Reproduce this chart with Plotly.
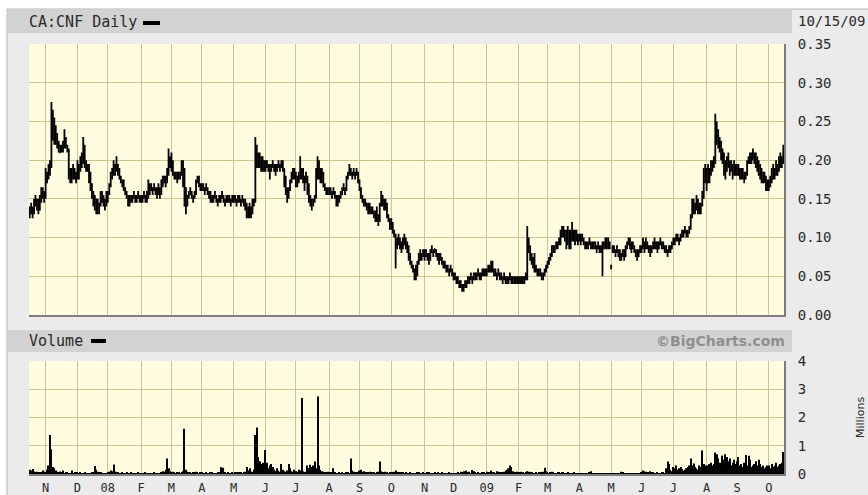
import pandas as pd
import plotly.graph_objects as go

W, H = 868, 495

# Daily prices in cents (trading days 2007-10-17 .. 2009-10-15), one line per month
close_c = [
    13, 13.5, 13, 14, 14.5, 14, 13.5, 14.5, 15, 15.5, 15,  # Oct 07
    18, 17.5, 18.5, 19, 23, 25, 24, 22.5, 23, 21.5, 21, 21.5, 22, 23, 22, 21.5, 18.5, 17.5, 18, 18.5, 18, 17.5,  # Nov
    19, 18.5, 19.5, 20, 21.5, 20, 19, 19, 18.5, 17, 15.5, 15, 14.5, 13.5, 14, 13.5, 14.5, 15, 14.5, 14, 15,  # Dec
    15.5, 16.5, 17.5, 18.5, 19, 18.5, 19.5, 19, 18, 17.5, 17, 16.5, 16, 15.5, 15, 14.5, 15, 15, 15.5, 15, 15, 15.5, 15,  # Jan 08
    15, 15, 15.5, 15, 15, 16.5, 16, 16.5, 16, 16.5, 16, 15.5, 16, 15.5, 16.5, 17, 17.5, 17, 18, 20, 19.5,  # Feb
    19.5, 18.5, 18, 18, 17.5, 18, 18, 18.5, 19, 16.5, 14, 15, 15.5, 16, 15.5, 15, 15.5, 17, 17.5, 17, 16.5,  # Mar
    16.5, 16.5, 16, 16.5, 16, 15.5, 15, 15, 15, 15.5, 15, 14.5, 15, 15, 15.5, 15, 14.5, 15, 15, 15, 14.5, 15,  # Apr
    15, 15, 14.5, 15, 15, 14.5, 15, 14.5, 14, 13.5, 13, 13.5, 13, 14, 14.5, 21, 20, 19.5, 20, 19, 19.5, 19,  # May
    19, 19.5, 19, 18.5, 19, 19.5, 19, 18.5, 19, 19.5, 19, 19.5, 19, 18, 16.5, 15.5, 16, 17, 18, 18.5, 18,  # Jun
    17.5, 17, 18, 19, 18.5, 18, 17, 18, 17, 15.5, 14.5, 14, 14.5, 15, 18, 19, 18.5, 17.5, 18, 17, 16.5, 16, 16,  # Jul
    16, 16, 15.5, 16, 15.5, 15, 14.5, 15, 15.5, 16, 16.5, 16, 17, 18, 18.5, 18.5, 18, 18.5, 18, 18.5, 18,  # Aug
    16.5, 15.5, 15, 14.5, 14.5, 14, 13.5, 14, 13.5, 13.5, 13, 12.5, 13, 12, 13.5, 15, 14.5, 14, 14.5, 13, 12.5, 12,  # Sep
    12, 11, 10.5, 8, 9.5, 10, 9, 8.5, 9.5, 10, 9, 8.5, 8, 7, 6.5, 6, 5.5, 5, 6.5, 7.5, 8, 7.5, 8,  # Oct
    7.5, 8, 7.5, 7, 8, 8.5, 8, 8.5, 8, 7.5, 7, 7.5, 7, 6.5, 6.5, 6, 6, 5.5, 6, 5.5,  # Nov
    5, 5, 4.5, 4.5, 4, 4, 3.5, 3.5, 4, 4, 4.5, 4.5, 5, 4.5, 5, 5, 5, 5.5, 5, 5, 5.5, 5.5, 5.5,  # Dec
    5.5, 6, 6, 6.5, 6, 5.5, 5.5, 5, 5.5, 5, 5, 4.5, 5, 4.5, 4.5, 4.5, 5, 4.5, 4.5, 4.5, 4.5, 4.5,  # Jan 09
    4.5, 4.5, 4.5, 4.5, 4.5, 5, 9.5, 8.5, 7.5, 7, 6.5, 6, 6, 5.5, 5.5, 5.5, 5, 5, 5.5, 6,  # Feb
    6.5, 7, 7.5, 8.5, 8.5, 8.5, 9, 9, 9.5, 10, 10.5, 11, 10.5, 10.5, 11, 10, 10.5, 11, 10.5, 10, 10.5, 10,  # Mar
    10, 9.5, 10, 9.5, 9, 9, 9, 9.5, 9, 9, 9, 9, 8.5, 9, 8.5, 8.5, 9, 9, 9.5, 9, 9.5, 9,  # Apr
    6, 8.5, 8.5, 8, 8.5, 8, 7.5, 7.5, 8, 7.5, 8.5, 9, 9.5, 9, 8.5, 9, 8.5, 8, 7.5, 8, 8.5,  # May
    8.5, 9, 8.5, 9.5, 9, 8.5, 8, 8.5, 9, 9.5, 9, 8.5, 9, 9.5, 9, 9, 8.5, 8.5, 8, 8.5, 8.5, 9,  # Jun
    9.5, 9.5, 10, 10, 9.5, 10, 10.5, 10.5, 11, 10.5, 10.5, 11, 12.5, 14.5, 14, 13.5, 14.5, 14, 13.5, 14, 15, 17, 18.5,  # Jul
    17, 18.5, 18, 19.5, 19, 20, 24, 23, 22.5, 22, 21, 20.5, 19.5, 18.5, 19.5, 20, 19, 19.5, 18.5, 19, 19,  # Aug
    19, 18.5, 18, 18.5, 18, 17.5, 18, 19.5, 20, 20.5, 20, 21, 20.5, 20, 19.5, 19, 18.5, 18, 17.5, 18, 17, 16.5,  # Sep
    16.5, 17, 18, 18.5, 18, 19, 18.5, 19.5, 20, 19.5, 21,  # Oct 09
]

high_c = [
    14, 14.5, 14, 15, 15.5, 15, 15, 15.5, 16.5, 16.5, 16,
    19, 18.5, 19.5, 20, 27.5, 26.5, 25.5, 24.5, 23.5, 22.5, 22, 22, 22.5, 24, 23, 22, 21.5, 19, 19, 19.5, 19, 18.5,
    20, 19.5, 20.5, 21, 23, 22, 20, 19.5, 19.5, 18.5, 17, 16, 15.5, 15, 15, 14.5, 16, 16, 15.5, 15, 16,
    16, 17, 18.5, 19, 20, 19.5, 20.5, 19.5, 19, 18, 17.5, 17.5, 16.5, 16, 15.5, 15.5, 15.5, 15.5, 16, 15.5, 15.5, 16, 15.5,
    15.5, 15.5, 16, 15.5, 16, 17.5, 17, 17, 16.5, 17, 16.5, 16.5, 17, 16.5, 17.5, 18, 18, 18, 19, 21.5, 20.5,
    21, 20, 18.5, 18.5, 18.5, 18.5, 18.5, 20, 20, 19, 16.5, 15.5, 16, 16.5, 16, 15.5, 16, 17.5, 18, 18, 17,
    17, 17, 16.5, 17, 16.5, 16, 16, 15.5, 15.5, 16, 15.5, 15, 15.5, 15.5, 16, 15.5, 15, 15.5, 15.5, 15.5, 15, 15.5,
    15.5, 15.5, 15, 15.5, 15.5, 15, 15.5, 15, 15, 14.5, 14, 14.5, 14, 15, 15, 23, 22, 21, 21, 20.5, 20.5, 20,
    20, 20, 19.5, 19.5, 19.5, 20, 19.5, 19.5, 19.5, 20, 19.5, 20, 20, 19, 18, 16.5, 16.5, 17.5, 18.5, 19, 19,
    18.5, 18, 18.5, 20.5, 19, 19, 18, 18.5, 18, 17, 15.5, 15, 15, 15.5, 19, 20.5, 20, 19, 19, 18.5, 17, 16.5, 16.5,
    16.5, 16.5, 16, 16.5, 16, 15.5, 15.5, 15.5, 16, 16.5, 17, 16.5, 18, 18.5, 19.5, 19, 18.5, 19, 18.5, 19, 18.5,
    17.5, 16.5, 15.5, 15, 15, 14.5, 14.5, 14.5, 14, 14, 13.5, 13.5, 14, 13, 14.5, 16, 15.5, 15, 15, 14.5, 13, 12.5,
    12.5, 12, 11, 10.5, 10, 10.5, 10, 9.5, 10, 10.5, 10, 9.5, 9, 8, 7, 6.5, 6, 6.5, 7, 8, 8.5, 8, 8.5,
    8.5, 8.5, 8, 8, 8.5, 9, 8.5, 8.5, 8.5, 8, 8, 8, 7.5, 7, 7, 6.5, 6.5, 6, 6.5, 6,
    5.5, 5.5, 5, 5, 4.5, 4.5, 4, 4, 4.5, 4.5, 5, 5, 5.5, 5, 5.5, 5.5, 5.5, 6, 5.5, 5.5, 6, 6, 6,
    6, 6.5, 6.5, 7, 7, 6, 6, 5.5, 6, 5.5, 5.5, 5, 5.5, 5, 5, 5, 5.5, 5, 5, 5, 5, 5,
    5, 5, 5, 5, 5, 5.5, 11.5, 10, 9, 8, 7.5, 8, 6.5, 6, 6, 6, 5.5, 5.5, 6, 6.5,
    7, 7.5, 8, 9, 9, 9, 9.5, 9.5, 10, 11, 11.5, 11.5, 11, 11, 11.5, 11, 11, 12, 11, 11, 11, 10.5,
    10.5, 10.5, 10.5, 10, 9.5, 9.5, 9.5, 10, 9.5, 9.5, 9.5, 9.5, 9, 9.5, 9, 9, 9.5, 9.5, 10, 10, 10, 9.5,
    6.5, 9, 9, 8.5, 9, 8.5, 8.5, 8, 8.5, 8.5, 9, 9.5, 10, 10, 9.5, 9.5, 9, 8.5, 8.5, 8.5, 9,
    9, 10, 9.5, 10, 9.5, 9, 9, 9, 9.5, 10, 9.5, 9.5, 9.5, 10, 9.5, 9.5, 9, 9, 8.5, 9, 9, 9.5,
    10, 10, 10.5, 10.5, 10, 10.5, 11, 11, 11.5, 11, 11, 11.5, 13, 15, 15, 14.5, 15.5, 15, 14.5, 14.5, 16, 19, 19.5,
    19, 19.5, 19, 20, 20, 20.5, 26, 25, 24, 23, 22.5, 21.5, 21, 20, 20.5, 21, 20, 20, 19.5, 20, 19.5,
    19.5, 19.5, 19, 19, 19, 18.5, 18.5, 20, 20.5, 21, 21, 21.5, 21, 21, 20.5, 20, 19.5, 19, 18.5, 18.5, 18, 17.5,
    17.5, 18, 19, 19.5, 19, 20, 19.5, 20.5, 21, 20.5, 22,
]

low_c = [
    12.5, 13, 12.5, 13, 14, 13.5, 13, 13.5, 14.5, 15, 14.5,
    15, 17, 17.5, 18, 19, 22.5, 22, 22, 21.5, 21, 21, 21, 21, 21.5, 21.5, 21, 17.5, 17, 17, 17.5, 17.5, 17,
    17.5, 17.5, 18.5, 19, 19.5, 19, 18.5, 18.5, 17, 16, 15, 14, 13.5, 13, 13, 13, 14, 14.5, 14, 13.5, 14,
    14.5, 15.5, 16.5, 17.5, 18, 18, 18.5, 18, 17.5, 17, 16.5, 16, 15.5, 15, 14, 14, 14.5, 14.5, 15, 14.5, 14.5, 15, 14.5,
    14.5, 14.5, 15, 14.5, 14.5, 15, 15.5, 16, 15.5, 16, 15.5, 15, 15.5, 15, 15.5, 16.5, 17, 16.5, 17, 18, 19,
    18.5, 18, 17.5, 17.5, 17, 17.5, 17.5, 18, 16.5, 14, 13, 14, 15, 15.5, 15, 14.5, 15, 15.5, 17, 16.5, 16,
    16, 16, 15.5, 16, 15.5, 15, 14.5, 14.5, 14.5, 15, 14.5, 14, 14.5, 14.5, 15, 14.5, 14, 14.5, 14.5, 14.5, 14, 14.5,
    14.5, 14.5, 14, 14.5, 14.5, 14, 14.5, 14, 13.5, 12.5, 12.5, 12.5, 12.5, 13, 14, 14.5, 19, 19, 19, 18.5, 18.5, 18.5,
    18.5, 19, 18.5, 17.5, 18.5, 19, 18.5, 18, 18.5, 19, 18.5, 19, 18.5, 16.5, 15.5, 14.5, 15, 16, 17, 17.5, 17.5,
    16.5, 16.5, 17, 17.5, 17.5, 17, 16, 17, 15.5, 14.5, 14, 13.5, 14, 14.5, 15, 17.5, 17.5, 17, 17, 16.5, 16, 15.5, 15.5,
    15.5, 15.5, 15, 15.5, 15, 14, 14, 14.5, 15, 15.5, 16, 15.5, 16, 17.5, 18, 18, 17.5, 18, 17.5, 18, 17,
    16, 15, 14.5, 14, 14, 13.5, 13, 13, 13, 13, 12.5, 12, 12, 11.5, 12, 14, 14, 13.5, 13.5, 12.5, 12, 11,
    11, 10.5, 10, 6, 8.5, 9, 8.5, 8, 8.5, 9, 8.5, 8, 7, 6.5, 6, 5.5, 4.5, 4.5, 5, 6.5, 7, 7, 7.5,
    7, 7.5, 7, 6.5, 7, 8, 7.5, 8, 7.5, 7, 6.5, 7, 6.5, 6, 6, 5.5, 5.5, 5, 5.5, 5,
    4.5, 4.5, 4, 4, 3.5, 3.5, 3, 3, 3.5, 3.5, 4, 4, 4.5, 4, 4.5, 4.5, 4.5, 5, 4.5, 4.5, 5, 5, 5,
    5, 5.5, 5.5, 5.5, 5.5, 5, 5, 4.5, 5, 4.5, 4.5, 4, 4.5, 4, 4, 4, 4.5, 4, 4, 4, 4, 4,
    4, 4, 4, 4, 4, 4.5, 4.5, 8, 7, 6.5, 6, 5.5, 5.5, 5, 5, 5, 4.5, 4.5, 5, 5.5,
    6, 6.5, 7, 7.5, 8, 8, 8.5, 8.5, 9, 9, 10, 10, 9.5, 8.5, 9, 8.5, 8.5, 9.5, 9.5, 9, 9.5, 9,
    9.5, 9, 9.5, 9, 8.5, 8.5, 8.5, 9, 8.5, 8.5, 8.5, 8.5, 8, 8.5, 8, 8, 5, 8.5, 8.5, 8.5, 8.5, 8.5,
    6, 8, 8, 7.5, 8, 7.5, 7, 7, 7.5, 7, 7.5, 8.5, 9, 8.5, 8, 8.5, 8, 7.5, 7, 7.5, 8,
    8, 8.5, 8, 8.5, 8.5, 8, 7.5, 8, 8.5, 8.5, 8.5, 8, 8.5, 9, 8.5, 8.5, 8, 8, 7.5, 8, 8, 8.5,
    9, 9, 9.5, 9.5, 9, 9.5, 10, 10, 10.5, 10, 10, 10.5, 11, 12.5, 13, 13, 13.5, 13, 13, 13, 14, 15, 17,
    16, 17, 17, 18, 18.5, 19, 19.5, 22, 21.5, 21, 20, 19.5, 18, 17.5, 18.5, 19, 18, 18.5, 17.5, 18, 18,
    18, 18, 17.5, 17.5, 17.5, 17, 17.5, 18, 19.5, 19.5, 19.5, 20, 19.5, 19, 18.5, 18, 17.5, 17, 17, 17, 16, 16,
    16, 16.5, 17, 17.5, 17.5, 18, 18, 18.5, 19, 19, 19.5,
]

# Daily volume in thousands of shares
volume_k = [
    150, 120, 180, 90, 60, 80, 50, 40, 60, 120, 80,
    60, 150, 300, 1380, 880, 250, 200, 120, 80, 60, 90, 40, 120, 30, 50, 40, 30, 20, 120, 30, 40, 30,
    40, 30, 60, 20, 30, 50, 20, 10, 30, 20, 40, 50, 280, 150, 80, 60, 40, 30, 20, 10, 20,
    50, 80, 120, 100, 340, 90, 60, 40, 20, 30, 40, 20, 30, 60, 20, 30, 40, 20, 10, 30, 20, 40, 30,
    20, 30, 20, 40, 20, 10, 30, 20, 20, 40, 30, 20, 30, 20, 60, 100, 80, 150, 550, 200, 100,
    60, 80, 40, 30, 60, 50, 30, 40, 100, 1600, 150, 80, 60, 40, 30, 50, 40, 80, 60, 30, 40,
    40, 30, 20, 50, 30, 20, 40, 60, 30, 20, 30, 40, 60, 240, 80, 220, 40, 30, 50, 20, 30, 40,
    30, 50, 40, 30, 60, 40, 30, 50, 80, 250, 120, 200, 60, 80, 150, 1380, 1650, 600, 450, 350, 400, 300,
    850, 400, 200, 300, 350, 250, 150, 100, 200, 120, 80, 350, 150, 100, 80, 120, 350, 200, 100, 80, 150,
    100, 80, 150, 120, 2690, 100, 60, 80, 300, 200, 330, 250, 300, 440, 200, 2740, 300, 150, 100, 80, 60, 50, 80,
    40, 60, 30, 200, 40, 30, 20, 50, 30, 40, 30, 20, 40, 60, 30, 550, 120, 80, 60, 40, 50,
    120, 150, 80, 100, 60, 40, 50, 80, 60, 40, 50, 30, 60, 80, 440, 100, 60, 40, 80, 50, 30, 60,
    60, 40, 80, 120, 50, 40, 30, 60, 40, 30, 50, 20, 30, 40, 20, 10, 30, 20, 40, 60, 30, 20, 40,
    20, 30, 60, 40, 20, 10, 30, 40, 20, 60, 30, 20, 40, 20, 30, 10, 20, 40, 20, 30,
    20, 30, 20, 40, 30, 80, 60, 100, 40, 120, 60, 80, 30, 140, 100, 60, 30, 40, 20, 30, 60, 40, 30,
    80, 60, 40, 120, 60, 40, 30, 100, 80, 50, 60, 40, 80, 120, 150, 200, 300, 250, 100, 60, 40, 80,
    60, 40, 80, 50, 30, 60, 100, 80, 60, 40, 30, 20, 40, 30, 50, 40, 60, 80, 220, 100,
    40, 30, 60, 80, 40, 30, 20, 60, 40, 30, 60, 40, 30, 20, 40, 30, 20, 30, 40, 20, 30, 20,
    20, 30, 20, 10, 20, 30, 20, 40, 100, 20, 10, 20, 30, 20, 10, 20, 30, 20, 10, 20, 30, 20,
    20, 10, 20, 30, 20, 10, 20, 80, 60, 20, 10, 20, 30, 20, 10, 20, 10, 20, 30, 20, 10,
    60, 120, 100, 80, 60, 40, 100, 60, 40, 30, 20, 40, 30, 20, 60, 40, 30, 200, 440, 350, 150, 100,
    250, 200, 300, 150, 200, 250, 180, 120, 150, 200, 250, 300, 550, 300, 370, 250, 200, 150, 300, 250, 830, 350, 300,
    300, 250, 350, 400, 300, 350, 760, 700, 550, 400, 300, 650, 500, 700, 600, 450, 550, 300, 400, 500, 350,
    450, 600, 300, 350, 250, 400, 670, 300, 650, 500, 250, 300, 350, 450, 300, 500, 350, 250, 300, 200, 250, 300,
    300, 200, 350, 250, 300, 400, 250, 300, 350, 400, 780,
]

month_letters = ["J", "F", "M", "A", "M", "J", "J", "A", "S", "O", "N", "D"]
price_ticks = [0, 0.05, 0.10, 0.15, 0.20, 0.25, 0.30, 0.35]
volume_ticks = [0, 1, 2, 3, 4]

dates = pd.bdate_range("2007-10-17", "2009-10-15")
n = len(dates)
for name, arr in [("close", close_c), ("high", high_c), ("low", low_c), ("vol", volume_k)]:
    assert len(arr) == n, (name, len(arr), n)
x = [d.strftime("%Y-%m-%d") for d in dates]

tickvals, ticktext = [], []
prev = None
for d, s in zip(dates, x):
    if prev is not None and d.month != prev:
        tickvals.append(s)
        ticktext.append(f"{d.year % 100:02d}" if d.month == 1 else month_letters[d.month - 1])
    prev = d.month

close = [v / 100 for v in close_c]
high = [v / 100 for v in high_c]
low = [v / 100 for v in low_c]
vol_m = [v / 1000 for v in volume_k]


def px(v):
    return v / W


def py(v):
    return 1 - v / H


GRID = "#cfc592"
CREAM = "#fffcdf"
BAND = "#d2d2d2"
FRAME = "#ebebeb"
EDGE = "#7d7d7d"
MONO = "DejaVu Sans Mono"
TXT = "#2a2a2a"

fig = go.Figure()
fig.add_trace(go.Ohlc(
    x=x, open=close, high=high, low=low, close=close,
    xaxis="x", yaxis="y",
    increasing=dict(line=dict(color="black", width=1.8)),
    decreasing=dict(line=dict(color="black", width=1.8)),
    tickwidth=0.5, showlegend=False, hoverinfo="skip",
))
fig.add_trace(go.Bar(
    x=x, y=vol_m, xaxis="x2", yaxis="y2",
    marker=dict(color="black", line=dict(width=0)),
    showlegend=False, hoverinfo="skip",
))

xdom = [px(29), px(784)]
common_x = dict(
    domain=xdom, type="category", range=[-0.5, n - 0.5],
    tickvals=tickvals, showgrid=True, gridcolor=GRID, gridwidth=1,
    zeroline=False, showline=True, linecolor=EDGE, linewidth=2,
    fixedrange=True, automargin=False,
)
common_y = dict(
    side="right", showgrid=True, gridcolor=GRID, gridwidth=1,
    zeroline=False, showline=True, linecolor=EDGE, linewidth=2,
    ticks="outside", ticklen=9, tickcolor="rgba(0,0,0,0)",
    tickfont=dict(family=MONO, size=14, color=TXT), fixedrange=True,
    automargin=False,
)

fig.update_layout(
    width=W, height=H, margin=dict(l=0, r=0, t=0, b=0, pad=0),
    paper_bgcolor="white", plot_bgcolor="rgba(0,0,0,0)",
    bargap=0.25, showlegend=False,
    xaxis=dict(**common_x, anchor="y", showticklabels=False, ticks="",
               rangeslider=dict(visible=False)),
    xaxis2=dict(**common_x, anchor="y2", ticktext=ticktext, showticklabels=True,
                ticks="outside", ticklen=2, tickcolor="rgba(0,0,0,0)",
                tickfont=dict(family=MONO, size=12, color=TXT)),
    yaxis=dict(**common_y, domain=[py(315), py(44)], anchor="x",
               range=[0, 0.35], tickvals=price_ticks, tickformat=".2f"),
    yaxis2=dict(**common_y, domain=[py(474), py(361)], anchor="x2",
                range=[0, 4], tickvals=volume_ticks),
)

shapes = [
    dict(type="rect", xref="paper", yref="paper", x0=px(7), x1=px(869), y0=py(496), y1=py(9),
         fillcolor=FRAME, line=dict(color="#b4b4b4", width=1), layer="below"),
    dict(type="rect", xref="paper", yref="paper", x0=px(8), x1=px(792), y0=py(33), y1=py(10),
         fillcolor=BAND, line=dict(width=0), layer="below"),
    dict(type="rect", xref="paper", yref="paper", x0=px(8), x1=px(792), y0=py(352), y1=py(330),
         fillcolor=BAND, line=dict(width=0), layer="below"),
    dict(type="rect", xref="x domain", yref="y domain", x0=0, x1=1, y0=0, y1=1,
         fillcolor=CREAM, line=dict(width=0), layer="below"),
    dict(type="rect", xref="x2 domain", yref="y2 domain", x0=0, x1=1, y0=0, y1=1,
         fillcolor=CREAM, line=dict(width=0), layer="below"),
    dict(type="rect", xref="paper", yref="paper", x0=px(143), x1=px(160), y0=py(25), y1=py(21),
         fillcolor="black", line=dict(width=0), layer="above"),
    dict(type="rect", xref="paper", yref="paper", x0=px(91), x1=px(106), y0=py(343), y1=py(339),
         fillcolor="black", line=dict(width=0), layer="above"),
]
fig.update_layout(shapes=shapes)

annotations = [
    dict(text="CA:CNF Daily", x=px(27), y=py(22), xanchor="left", yanchor="middle",
         font=dict(family=MONO, size=15, color=TXT)),
    dict(text="10/15/09", x=px(796), y=py(21), xanchor="left", yanchor="middle",
         font=dict(family=MONO, size=14, color=TXT)),
    dict(text="Volume", x=px(27), y=py(341), xanchor="left", yanchor="middle",
         font=dict(family=MONO, size=15, color=TXT)),
    dict(text="<b>©BigCharts.com</b>", x=px(787), y=py(341), xanchor="right", yanchor="middle",
         font=dict(family="DejaVu Sans", size=14, color="#8e8e8e")),
    dict(text="Millions", x=px(860), y=py(418), xanchor="center", yanchor="middle",
         textangle=-90, font=dict(family="DejaVu Sans", size=11, color=TXT)),
]
for a in annotations:
    a.update(xref="paper", yref="paper", showarrow=False)
fig.update_layout(annotations=annotations)

fig.write_html(
    "out.html",
    config={"displayModeBar": False},
    post_script="document.body.style.margin='0';document.body.style.overflow='hidden';",
)
